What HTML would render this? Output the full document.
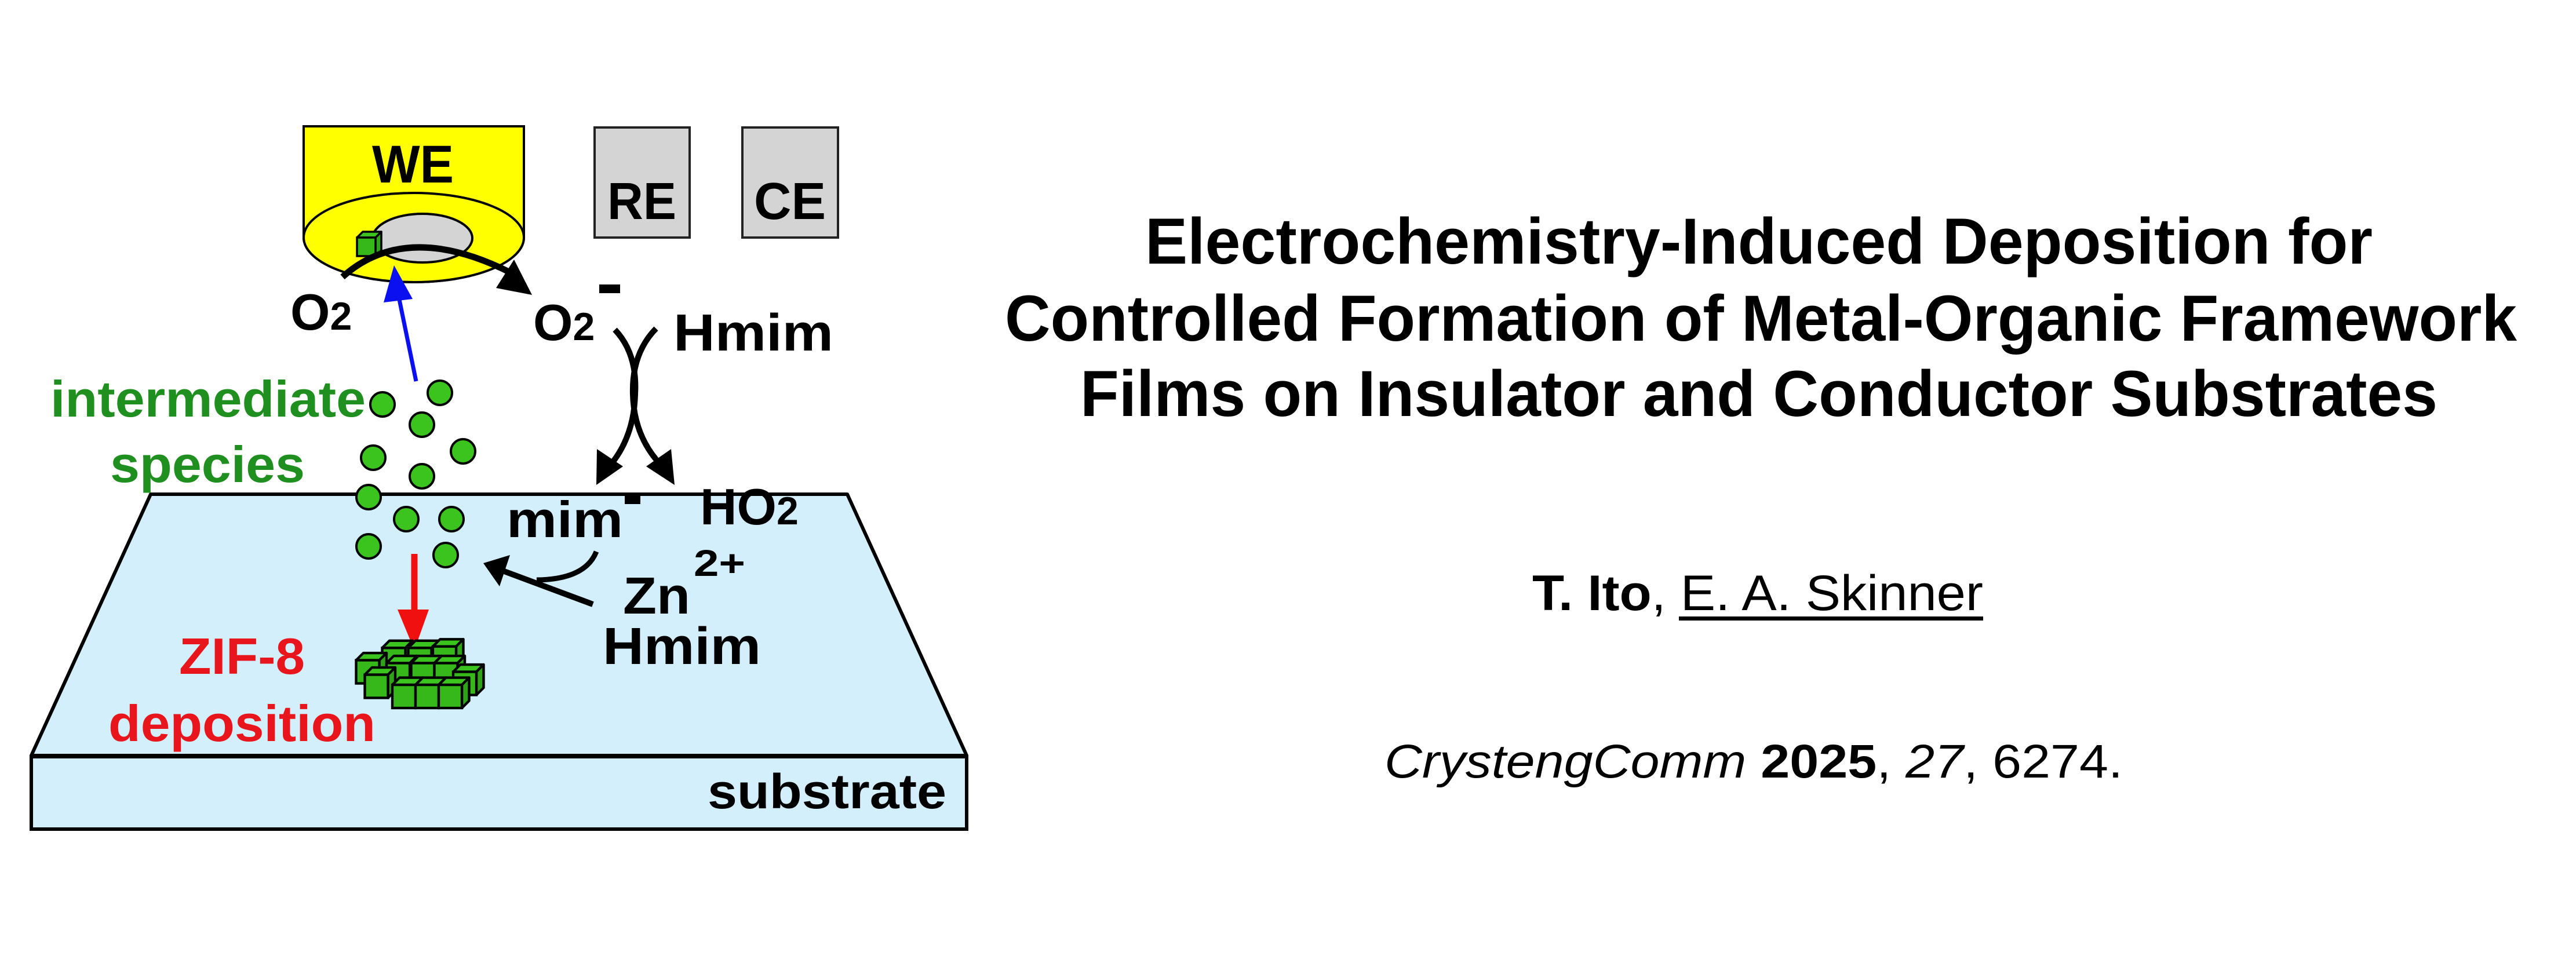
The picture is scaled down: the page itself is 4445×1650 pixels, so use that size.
<!DOCTYPE html>
<html><head><meta charset="utf-8"><style>html,body{margin:0;padding:0;background:#fff}svg{display:block}</style></head>
<body>
<svg width="4445" height="1650" viewBox="0 0 4445 1650" xmlns="http://www.w3.org/2000/svg" font-family="Liberation Sans, Arial, sans-serif">
<defs>
<g id="cube">
<path d="M0,0 L10,-10 L42,-10 L32,0 Z" fill="#3cc41e" stroke="#000" stroke-width="3.5" stroke-linejoin="round"/>
<path d="M32,0 L42,-10 L42,22 L32,32 Z" fill="#2fa318" stroke="#000" stroke-width="3.5" stroke-linejoin="round"/>
<rect x="0" y="0" width="32" height="32" fill="#36b81a" stroke="#000" stroke-width="3.5"/>
</g>
</defs>
<rect width="4445" height="1650" fill="#fff"/>

<!-- substrate -->
<path d="M260,853 L1462,853 L1668,1304 L54,1304 Z" fill="#d3effb" stroke="#000" stroke-width="6" stroke-linejoin="round"/>
<rect x="54" y="1306" width="1614" height="125" fill="#d3effb" stroke="#000" stroke-width="6"/>
<text x="1221" y="1395" font-size="84" font-weight="bold" textLength="412" lengthAdjust="spacingAndGlyphs">substrate</text>

<!-- WE -->
<path d="M524,218 L904,218 L904,410 A190,77 0 0 1 524,410 Z" fill="#ffff00" stroke="#000" stroke-width="4"/>
<ellipse cx="714" cy="410" rx="190" ry="77" fill="#ffff00" stroke="#000" stroke-width="4"/>
<ellipse cx="729" cy="411" rx="86" ry="42" fill="#d4d4d4" stroke="#000" stroke-width="4"/>
<text x="642" y="315" font-size="92" font-weight="bold" textLength="141" lengthAdjust="spacingAndGlyphs">WE</text>
<g transform="translate(616,410)"><use href="#cube"/></g>

<!-- RE CE -->
<rect x="1026" y="220" width="164" height="190" fill="#d4d4d4" stroke="#222" stroke-width="4"/>
<rect x="1281" y="220" width="165" height="190" fill="#d4d4d4" stroke="#222" stroke-width="4"/>
<text x="1048" y="378" font-size="90" font-weight="bold" textLength="119" lengthAdjust="spacingAndGlyphs">RE</text>
<text x="1301" y="378" font-size="90" font-weight="bold" textLength="124" lengthAdjust="spacingAndGlyphs">CE</text>

<!-- arc O2 -> O2- -->
<path d="M591,478 Q700,380 880,470" fill="none" stroke="#000" stroke-width="11"/>
<polygon points="918,509 856,497 887,448" fill="#000"/>

<!-- blue arrow -->
<line x1="718" y1="658" x2="688" y2="512" stroke="#0a10f0" stroke-width="7"/>
<polygon points="680,458 662,522 712,516" fill="#0a10f0"/>

<!-- labels -->
<text x="501" y="569" font-size="88" font-weight="bold">O<tspan font-size="68">2</tspan></text>
<text x="920" y="587" font-size="88" font-weight="bold">O<tspan font-size="68">2</tspan></text>
<rect x="1034" y="491" width="36" height="15" fill="#000"/>
<text x="1162" y="605" font-size="90" font-weight="bold" textLength="276" lengthAdjust="spacingAndGlyphs">Hmim</text>

<!-- crossing arrows -->
<path d="M1061,569 Q1100,610 1096,680 Q1094,760 1045,812" fill="none" stroke="#000" stroke-width="10"/>
<path d="M1132,567 Q1090,610 1092,680 Q1094,760 1150,812" fill="none" stroke="#000" stroke-width="10"/>
<polygon points="1029,837 1030,775 1075,805" fill="#000"/>
<polygon points="1164,837 1115,805 1158,775" fill="#000"/>

<text x="874" y="927" font-size="88" font-weight="bold" textLength="201" lengthAdjust="spacingAndGlyphs">mim</text>
<rect x="1078" y="856" width="27" height="14" fill="#000"/>
<text x="1208" y="905" font-size="88" font-weight="bold">HO<tspan font-size="68">2</tspan></text>
<text x="1075" y="1059" font-size="90" font-weight="bold" textLength="116" lengthAdjust="spacingAndGlyphs">Zn</text>
<text x="1197" y="994" font-size="64" font-weight="bold" textLength="89" lengthAdjust="spacingAndGlyphs">2+</text>
<text x="1040" y="1146" font-size="90" font-weight="bold" textLength="273" lengthAdjust="spacingAndGlyphs">Hmim</text>

<!-- curved arrow to dots -->
<path d="M1029,952 Q1010,1000 926,1001" fill="none" stroke="#000" stroke-width="9"/>
<line x1="1023" y1="1043" x2="870" y2="986" stroke="#000" stroke-width="10"/>
<polygon points="834,972 880,958 862,1012" fill="#000"/>

<!-- dots -->
<g fill="#3cc41e" stroke="#000" stroke-width="4">
<circle cx="660" cy="698" r="21"/><circle cx="759" cy="678" r="21"/><circle cx="728" cy="733" r="21"/>
<circle cx="644" cy="790" r="21"/><circle cx="799" cy="779" r="21"/><circle cx="728" cy="822" r="21"/>
<circle cx="636" cy="858" r="21"/><circle cx="701" cy="896" r="21"/><circle cx="779" cy="896" r="21"/>
<circle cx="636" cy="943" r="21"/><circle cx="769" cy="958" r="21"/>
</g>

<!-- red arrow -->
<line x1="715" y1="956" x2="715" y2="1060" stroke="#f01010" stroke-width="11"/>
<polygon points="686,1052 740,1052 715,1122" fill="#f01010"/>

<!-- ZIF cubes -->
<g transform="translate(612,1112) scale(1.25)">
<use href="#cube" x="38" y="5"/><use href="#cube" x="74" y="5"/><use href="#cube" x="108" y="3"/>
<use href="#cube" x="2" y="22"/>
<use href="#cube" x="44" y="26"/><use href="#cube" x="78" y="26"/><use href="#cube" x="110" y="26"/>
<use href="#cube" x="136" y="38"/>
<use href="#cube" x="14" y="42"/>
<use href="#cube" x="52" y="56"/><use href="#cube" x="84" y="56"/><use href="#cube" x="116" y="56"/>
</g>

<text x="309" y="1163" font-size="88" font-weight="bold" fill="#e8161c" textLength="217" lengthAdjust="spacingAndGlyphs">ZIF-8</text>
<text x="187" y="1279" font-size="88" font-weight="bold" fill="#e8161c" textLength="461" lengthAdjust="spacingAndGlyphs">deposition</text>
<text x="87" y="719" font-size="88" font-weight="bold" fill="#1f8f1f" textLength="544" lengthAdjust="spacingAndGlyphs">intermediate</text>
<text x="190" y="832" font-size="88" font-weight="bold" fill="#1f8f1f" textLength="336" lengthAdjust="spacingAndGlyphs">species</text>

<!-- Title -->
<g font-weight="bold" font-size="112" fill="#000">
<text x="1976" y="455" textLength="2118" lengthAdjust="spacingAndGlyphs">Electrochemistry-Induced Deposition for</text>
<text x="1734" y="588" textLength="2609" lengthAdjust="spacingAndGlyphs">Controlled Formation of Metal-Organic Framework</text>
<text x="1864" y="718" textLength="2342" lengthAdjust="spacingAndGlyphs">Films on Insulator and Conductor Substrates</text>
</g>
<text x="2644" y="1053" font-size="86" textLength="778" lengthAdjust="spacingAndGlyphs"><tspan font-weight="bold">T. Ito</tspan>, E. A. Skinner</text>
<rect x="2897" y="1064" width="525" height="7" fill="#000"/>
<text x="2389" y="1342" font-size="82" textLength="1274" lengthAdjust="spacingAndGlyphs"><tspan font-style="italic">CrystengComm</tspan> <tspan font-weight="bold">2025</tspan>, <tspan font-style="italic">27</tspan>, 6274.</text>
</svg>
</body></html>
